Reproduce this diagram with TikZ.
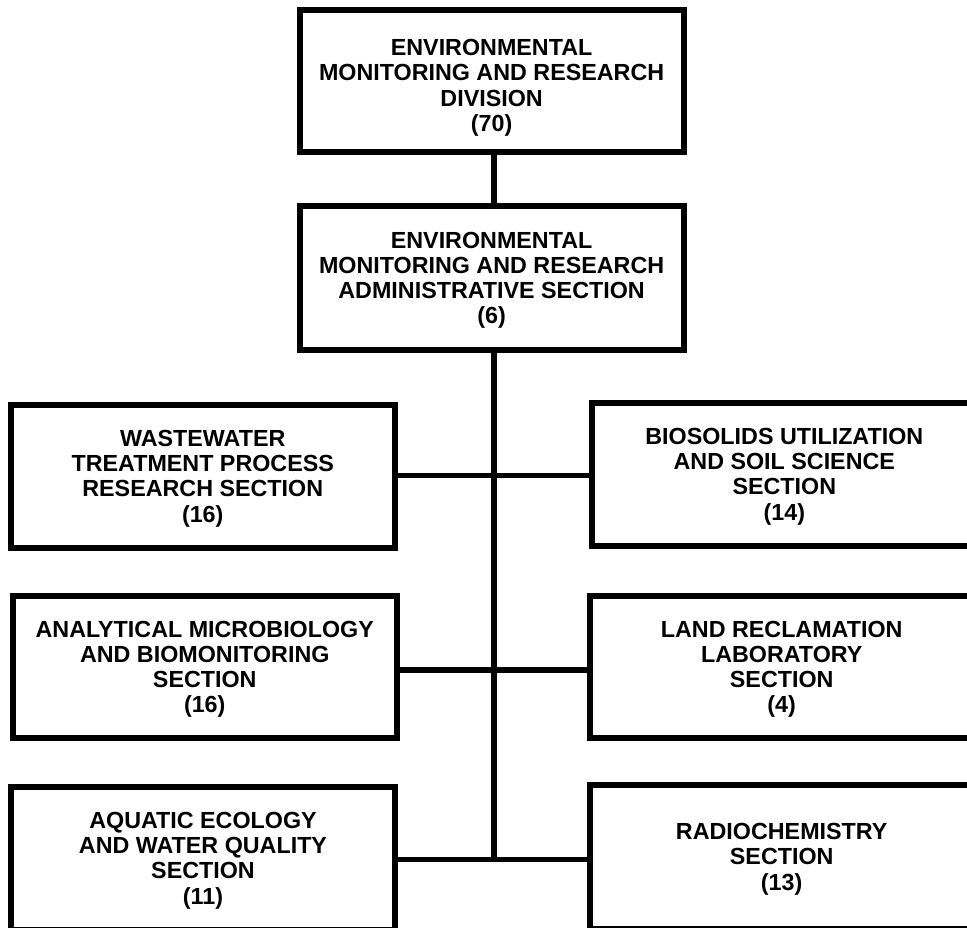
\documentclass[tikz,border=0pt]{standalone}
\usepackage{fontspec}
\setmainfont{Liberation Sans}
\begin{document}
\begin{tikzpicture}[x=1pt,y=-1pt,
  box/.style={draw=black, line width=6pt, rectangle, inner sep=0pt, align=center,
    font=\fontsize{23.3}{25.2}\selectfont\bfseries, text depth=0pt,
    minimum width=384pt, minimum height=143pt},
  link/.style={draw=black, line width=5.5pt}]
\useasboundingbox (0,0) rectangle (967,928);
\clip (0,0) rectangle (967,928);
\fill[white] (0,0) rectangle (967,928);

\node[box, minimum height=141.7pt, text height=100.3pt] (top) at (491.6,81.2) {ENVIRONMENTAL\\MONITORING AND RESEARCH\\DIVISION\\(70)};
\node[box, minimum height=143.7pt] (admin) at (491.6,277.9) {ENVIRONMENTAL\\MONITORING AND RESEARCH\\ADMINISTRATIVE SECTION\\(6)};

\node[box, minimum width=383.5pt, minimum height=143.5pt] (wwt) at (202.75,476.25) {WASTEWATER\\TREATMENT PROCESS\\RESEARCH SECTION\\(16)};
\node[box, minimum width=383.5pt, minimum height=142.3pt] (amb) at (204.75,666.85) {ANALYTICAL MICROBIOLOGY\\AND BIOMONITORING\\SECTION\\(16)};
\node[box, minimum width=383.5pt, minimum height=142.5pt] (aew) at (203,858.25) {AQUATIC ECOLOGY\\AND WATER QUALITY\\SECTION\\(11)};

\node[box, minimum height=143pt] (bus) at (784.3,474.2) {BIOSOLIDS UTILIZATION\\AND SOIL SCIENCE\\SECTION\\(14)};
\node[box, minimum height=142.3pt] (lrl) at (781.7,666.85) {LAND RECLAMATION\\LABORATORY\\SECTION\\(4)};
\node[box, minimum height=144.3pt] (rad) at (781.7,856.85) {RADIOCHEMISTRY\\SECTION\\(13)};

\coordinate (j1) at (494,475.3);
\coordinate (j2) at (494,670);
\coordinate (j3) at (494,859.3);

\draw[link] (top.south -| j1) -- (admin.north -| j1);
\draw[link] (admin.south -| j1) -- (j3);
\draw[link] (wwt.east |- j1) -- (bus.west |- j1);
\draw[link] (amb.east |- j2) -- (lrl.west |- j2);
\draw[link] (aew.east |- j3) -- (rad.west |- j3);
\end{tikzpicture}
\end{document}
